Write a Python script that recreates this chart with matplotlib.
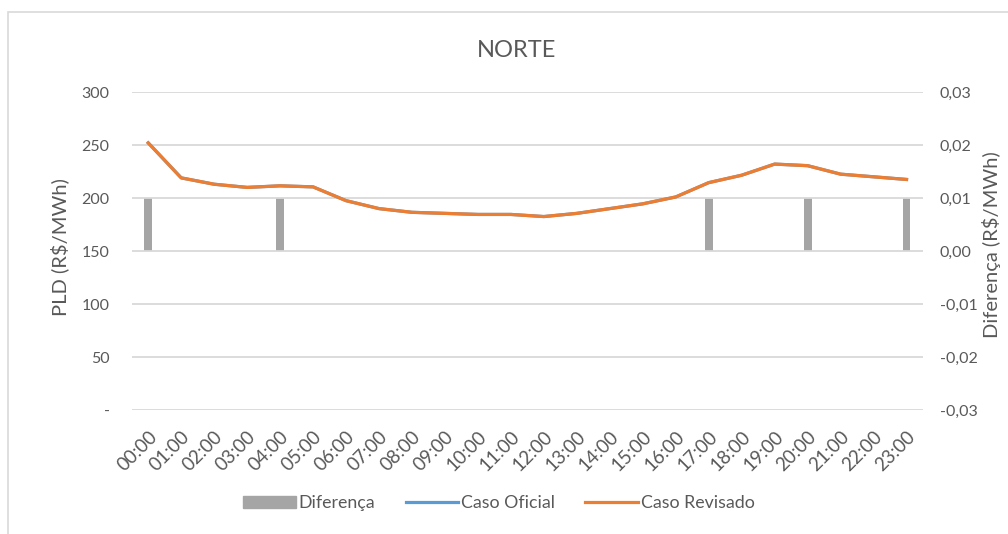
import matplotlib.pyplot as plt
from matplotlib.patches import Rectangle
from matplotlib.lines import Line2D
from matplotlib.patches import Patch

plt.rcParams['font.family'] = ['Lato', 'DejaVu Sans']

horas = [f"{h:02d}:00" for h in range(24)]
caso_oficial = [252, 219, 213, 210, 211.5, 210.5, 197.5, 190, 186.5, 185.5, 184.5, 184.5,
                182.5, 185.5, 190, 194.5, 201, 214.5, 221.5, 232, 230.5, 222.5, 220, 217.5]
caso_revisado = [252, 219, 213, 210, 211.5, 210.5, 197.5, 190, 186.5, 185.5, 184.5, 184.5,
                 182.5, 185.5, 190, 194.5, 201, 214.5, 221.5, 232, 230.5, 222.5, 220, 217.5]
diferenca = [0.01, 0, 0, 0, 0.01, 0, 0, 0, 0, 0, 0, 0,
             0, 0, 0, 0, 0, 0.01, 0, 0, 0.01, 0, 0, 0.01]

txt = '#595959'
grid = '#D9D9D9'
cinza = '#A5A5A5'
azul = '#5B9BD5'
laranja = '#ED7D31'
fs = 11.5

fig = plt.figure(figsize=(10.08, 5.34), dpi=100)
ax = fig.add_axes([0.1307, 0.2322, 0.785, 0.5955])
ax2 = ax.twinx()

# moldura do gráfico
fig.patches.append(Rectangle((7.5 / 1008, -0.05), 1.1, 1 - 11.5 / 534 + 0.05,
                             transform=fig.transFigure, fill=False,
                             edgecolor=grid, linewidth=1.2))

x = list(range(24))
ax2.bar(x, diferenca, width=0.24, color=cinza, zorder=1)
ax.plot(x, caso_oficial, color=azul, linewidth=2.3, zorder=3)
ax.plot(x, caso_revisado, color=laranja, linewidth=2.3, zorder=4)
ax.set_zorder(ax2.get_zorder() + 1)
ax.patch.set_visible(False)

ax.set_xlim(-0.5, 23.5)
ax.set_ylim(0, 300)
ax2.set_ylim(-0.03, 0.03)

ax.set_yticks([0, 50, 100, 150, 200, 250, 300])
ax.set_yticklabels(['-', '50', '100', '150', '200', '250', '300'])
ax2.set_yticks([-0.03, -0.02, -0.01, 0, 0.01, 0.02, 0.03])
ax2.set_yticklabels(['-0,03', '-0,02', '-0,01', '0,00', '0,01', '0,02', '0,03'])

ax.set_xticks(x)
ax.set_xticklabels(horas, rotation=45, ha='right', va='top', rotation_mode='anchor')

for a in (ax, ax2):
    for s in a.spines.values():
        s.set_visible(False)
    a.tick_params(length=0, colors=txt, labelsize=fs)
ax.tick_params(axis='y', pad=16)
ax2.tick_params(axis='y', pad=12)
ax.tick_params(axis='x', pad=13, labelsize=13.5)

ax.grid(axis='y', color=grid, linewidth=1.3, zorder=0)
ax.set_axisbelow(True)

# títulos dos eixos
fig.text(0.0595, 0.5365, 'PLD (R$/MWh)', rotation=90, ha='center', va='center',
         rotation_mode='anchor', color=txt, fontsize=14.5)
fig.text(0.984, 0.541, 'Diferença (R$/MWh)', rotation=90, ha='center', va='center',
         rotation_mode='anchor', color=txt, fontsize=14.5)
fig.text(0.5125, 0.906, 'NORTE', ha='center', va='center', color=txt, fontsize=17)

handles = [Patch(color=cinza), Line2D([], [], color=azul, linewidth=2.3),
           Line2D([], [], color=laranja, linewidth=2.3)]
fig.legend(handles, ['Diferença', 'Caso Oficial', 'Caso Revisado'],
           loc='center', bbox_to_anchor=(0.495, 0.058), ncol=3, frameon=False,
           fontsize=12.8, labelcolor=txt, handlelength=2.95, handletextpad=0.18,
           columnspacing=1.7, handleheight=0.7)

fig.savefig('out.png', dpi=100)
